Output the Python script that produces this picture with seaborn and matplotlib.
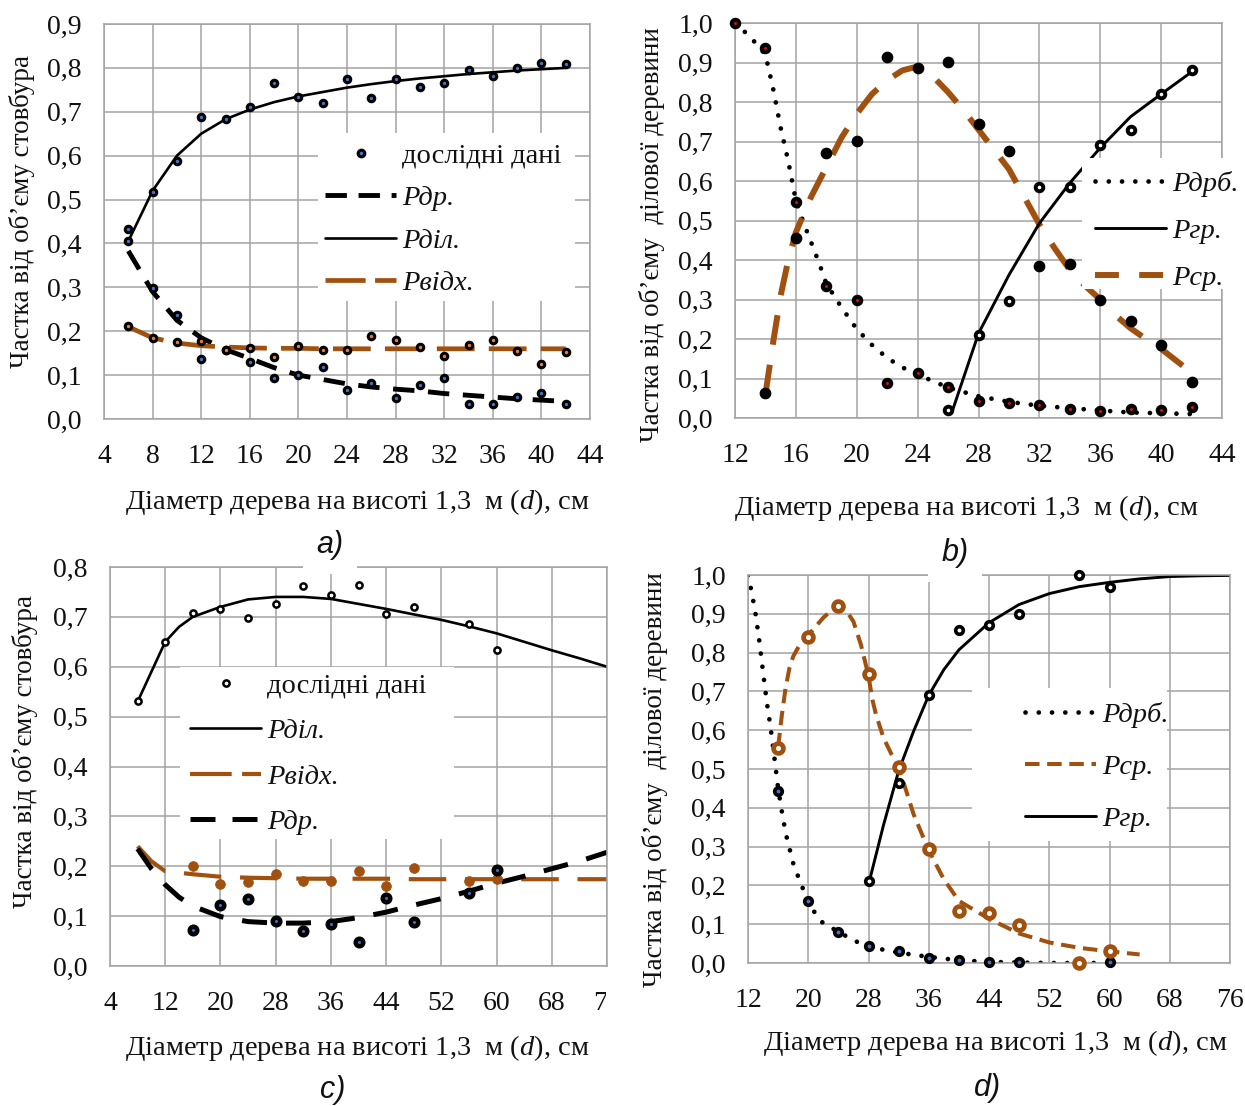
import matplotlib
matplotlib.use('Agg')
import seaborn as sns
from matplotlib import pyplot as plt
from matplotlib.lines import Line2D
from matplotlib.patches import Rectangle
from matplotlib.transforms import Bbox, TransformedBbox

# ---------------- data ----------------
# a) share of stem volume, small diameters
a_x = [6, 8, 10, 12, 14, 16, 18, 20, 22, 24, 26, 28, 30, 32, 34, 36, 38, 40, 42]
a_dil_pts = [0.434, 0.517, 0.588, 0.687, 0.684, 0.712, 0.765, 0.733, 0.721, 0.775,
             0.731, 0.775, 0.757, 0.765, 0.796, 0.782, 0.800, 0.812, 0.809]
a_dil_fit = [0.405, 0.52, 0.60, 0.65, 0.683, 0.705, 0.722, 0.735, 0.745, 0.755,
             0.763, 0.770, 0.776, 0.781, 0.786, 0.790, 0.794, 0.797, 0.800]
a_dr_pts = [0.406, 0.298, 0.238, 0.137, 0.158, 0.129, 0.094, 0.100, 0.118, 0.065,
            0.081, 0.047, 0.077, 0.093, 0.035, 0.035, 0.049, 0.059, 0.035]
a_dr_fit = [0.383, 0.29, 0.225, 0.185, 0.158, 0.138, 0.117, 0.100, 0.090, 0.080,
            0.073, 0.068, 0.064, 0.058, 0.054, 0.050, 0.046, 0.043, 0.040]
a_vidh_pts = [0.212, 0.184, 0.175, 0.177, 0.158, 0.161, 0.141, 0.167, 0.158, 0.158,
              0.190, 0.179, 0.165, 0.143, 0.169, 0.179, 0.155, 0.126, 0.153]
a_vidh_fit = [0.210, 0.185, 0.173, 0.167, 0.164, 0.162, 0.161, 0.161, 0.160, 0.160,
              0.160, 0.160, 0.160, 0.160, 0.160, 0.160, 0.160, 0.160, 0.160]

# b) share of commercial wood, small diameters
b_x = [12, 14, 16, 18, 20, 22, 24, 26, 28, 30, 32, 34, 36, 38, 40, 42]
b_drb_pts = [1.0, 0.937, 0.547, 0.333, 0.299, 0.089, 0.115, 0.078, 0.044, 0.037,
             0.033, 0.024, 0.017, 0.024, 0.020, 0.028]
b_drb_fit_x = [12, 13, 14, 14.5, 15, 15.5, 16, 16.5, 17, 17.5, 18, 19, 20, 21, 22, 23,
               24, 26, 28, 30, 32, 34, 36, 38, 40, 42]
b_drb_fit = [1.0, 0.965, 0.92, 0.835, 0.735, 0.65, 0.55, 0.495, 0.445, 0.395, 0.34,
             0.28, 0.225, 0.185, 0.152, 0.128, 0.11, 0.077, 0.055, 0.041, 0.031,
             0.025, 0.019, 0.014, 0.012, 0.010]
b_sr_x = [14, 16, 18, 20, 22, 24, 26, 28, 30, 32, 34, 36, 38, 40, 42]
b_sr_pts = [0.063, 0.456, 0.670, 0.702, 0.914, 0.885, 0.901, 0.745, 0.675, 0.386,
            0.390, 0.300, 0.245, 0.184, 0.092]
b_sr_fit_x = [14, 14.5, 15, 15.5, 16, 17, 18, 19, 20, 21, 22, 23, 24, 25, 26, 27, 28,
              29, 30, 31, 32, 33, 34, 35, 36, 37, 38, 39, 40, 41, 41.5]
b_sr_fit = [0.06, 0.19, 0.31, 0.40, 0.47, 0.56, 0.635, 0.71, 0.77, 0.82, 0.855, 0.88,
            0.89, 0.865, 0.825, 0.78, 0.73, 0.68, 0.63, 0.56, 0.49, 0.43, 0.375, 0.335,
            0.30, 0.26, 0.227, 0.20, 0.175, 0.145, 0.13]
b_gr_x = [26, 28, 30, 32, 34, 36, 38, 40, 42]
b_gr_pts = [0.020, 0.210, 0.296, 0.584, 0.584, 0.690, 0.730, 0.820, 0.880]
b_gr_fit_x = [26.3, 28, 30, 32, 34, 36, 38, 40, 42]
b_gr_fit = [0.020, 0.214, 0.362, 0.493, 0.595, 0.684, 0.763, 0.820, 0.876]

# c) share of stem volume, full diameter range
c_x = [8, 12, 16, 20, 24, 28, 32, 36, 40, 44, 48, 56, 60]
c_dil_pts = [0.531, 0.649, 0.708, 0.716, 0.697, 0.726, 0.762, 0.744, 0.764, 0.706,
             0.719, 0.685, 0.634]
c_x2 = [16, 20, 24, 28, 32, 36, 40, 44, 48, 56, 60]
c_vidh_pts = [0.200, 0.164, 0.169, 0.184, 0.171, 0.171, 0.190, 0.160, 0.197, 0.171, 0.175]
c_dr_pts = [0.073, 0.122, 0.134, 0.091, 0.071, 0.085, 0.048, 0.137, 0.089, 0.146, 0.192]
c_fit_x = [8, 10, 12, 14, 16, 20, 24, 28, 32, 36, 40, 44, 48, 52, 56, 60, 64, 68, 72, 76]
c_dil_fit = [0.53, 0.59, 0.65, 0.68, 0.70, 0.72, 0.735, 0.74, 0.74, 0.736, 0.726,
             0.716, 0.705, 0.694, 0.681, 0.667, 0.65, 0.633, 0.617, 0.60]
c_vidh_fit = [0.24, 0.21, 0.19, 0.187, 0.184, 0.179, 0.177, 0.176, 0.175, 0.175, 0.175,
              0.175, 0.174, 0.174, 0.174, 0.174, 0.174, 0.174, 0.174, 0.174]
c_dr_fit = [0.235, 0.195, 0.163, 0.138, 0.12, 0.099, 0.089, 0.086, 0.086, 0.089, 0.097,
            0.108, 0.122, 0.135, 0.15, 0.166, 0.18, 0.195, 0.21, 0.228]

# d) share of commercial wood, full diameter range
d_drb_x = [16, 20, 24, 28, 32, 36, 40, 44, 48, 60]
d_drb_pts = [0.444, 0.160, 0.081, 0.044, 0.030, 0.014, 0.008, 0.002, 0.002, 0.002]
d_drb_fit_x = [12, 12.5, 13, 13.5, 14, 14.5, 15, 15.5, 16, 16.5, 17, 18, 19, 20, 21, 22,
               24, 26, 28, 30, 32, 34, 36, 38, 40, 42, 44, 48, 52, 56, 60]
d_drb_fit = [1.0, 0.955, 0.90, 0.83, 0.75, 0.672, 0.607, 0.53, 0.45, 0.39, 0.335, 0.257,
             0.205, 0.16, 0.125, 0.102, 0.081, 0.058, 0.044, 0.034, 0.027, 0.021, 0.016,
             0.011, 0.008, 0.005, 0.003, 0.001, 0.0, 0.0, 0.0]
d_sr_x = [16, 20, 24, 28, 32, 36, 40, 44, 48, 56, 60]
d_sr_pts = [0.553, 0.840, 0.921, 0.745, 0.505, 0.295, 0.134, 0.129, 0.097, 0.0, 0.032]
d_sr_fit_x = [16, 16.5, 17, 17.5, 18, 19, 20, 22, 24, 25, 26, 27, 28, 28.5, 29, 30, 31,
              32, 34, 36, 38, 40, 44, 48, 52, 56, 60, 64]
d_sr_fit = [0.556, 0.64, 0.71, 0.76, 0.79, 0.825, 0.845, 0.89, 0.925, 0.91, 0.88, 0.82,
            0.74, 0.68, 0.64, 0.58, 0.54, 0.505, 0.383, 0.29, 0.216, 0.16, 0.114, 0.076,
            0.053, 0.039, 0.03, 0.022]
d_gr_x = [28, 32, 36, 40, 44, 48, 56, 60]
d_gr_pts = [0.211, 0.465, 0.690, 0.858, 0.871, 0.900, 1.0, 0.970]
d_gr_fit_x = [28, 30, 32, 34, 36, 38, 40, 44, 48, 52, 56, 60, 64, 68, 72, 76]
d_gr_fit = [0.202, 0.356, 0.495, 0.598, 0.69, 0.756, 0.807, 0.877, 0.924, 0.952, 0.97,
            0.981, 0.99, 0.996, 0.998, 0.999]

xlabel = 'Діаметр дерева на висоті 1,3  м ($\\mathit{d}$), см'
ylabel_stem = 'Частка від об’єму стовбура'
ylabel_wood = 'Частка від об’єму  ділової деревини'

# ---------------- style ----------------
W, H = 1245, 1106
BROWN = '#A0510F'
GRID = '#A3A3A3'
BLUE = '#4472C4'
ORANGE = '#ED7D31'
INK = '#111111'

sns.set_theme(style='white')
plt.rcParams['font.family'] = ['Liberation Serif', 'DejaVu Serif']
plt.rcParams['mathtext.fontset'] = 'custom'
plt.rcParams['mathtext.rm'] = 'Liberation Serif'
plt.rcParams['mathtext.it'] = 'Liberation Serif:italic'

fig = plt.figure(figsize=(W / 100, H / 100), dpi=100)


def add_axes(box):
    l, t, r, b = box
    return fig.add_axes([l / W, 1 - b / H, (r - l) / W, (b - t) / H])


def px_to_ax(box, x, y):
    l, t, r, b = box
    return (x - l) / (r - l), (b - y) / (b - t)


def style_axes(ax, box, xlim, xticks, ylim, yticks, ylab, xlab_pos, ylab_pos):
    ax.set_xlim(*xlim)
    ax.set_ylim(*ylim)
    ax.set_xticks(xticks)
    ax.set_xticklabels([str(v) for v in xticks])
    ax.set_yticks(yticks)
    ax.set_yticklabels([f'{v:.1f}'.replace('.', ',') for v in yticks])
    ax.grid(True, color=GRID, lw=1.1)
    ax.set_axisbelow(True)
    for s in ax.spines.values():
        s.set_color(GRID)
        s.set_linewidth(1.1)
    ax.tick_params(direction='out', length=6, width=1.1, color=GRID,
                   labelsize=20, pad=10, labelcolor=INK)
    ax.tick_params(axis='x', pad=12)
    ax.set_xlabel(xlabel, fontsize=20.5, color=INK)
    ax.xaxis.set_label_coords(*px_to_ax(box, *xlab_pos))
    ax.xaxis.label.set_va('center')
    ax.set_ylabel(ylab, fontsize=19.5, color=INK)
    ax.yaxis.set_label_coords(*px_to_ax(box, *ylab_pos))
    ax.yaxis.label.set_va('center')


def fit_line(ax, x, y, color, lw, ls, cap='butt'):
    sns.lineplot(x=x, y=y, ax=ax, color=color, lw=lw, linestyle=ls,
                 dash_capstyle=cap, sort=False, errorbar=None, zorder=2)


def points(ax, x, y, face, size, edge='black', ew=2.2):
    sns.scatterplot(x=x, y=y, ax=ax, color=face, edgecolor=edge, linewidth=ew,
                    s=size, zorder=3, clip_on=False, legend=False)


def white_box(ax, x0, y0, x1, y1):
    # white legend background (hides grid and lines underneath, as in the source)
    ax.add_patch(Rectangle((x0 / W, 1 - y1 / H), (x1 - x0) / W, (y1 - y0) / H,
                           transform=fig.transFigure, facecolor='white',
                           edgecolor='none', zorder=4, clip_on=False))


def legend(ax, handles, labels, x, y, spacing):
    leg = ax.legend(handles, labels, loc='upper left', bbox_to_anchor=(x / W, 1 - y / H),
                    bbox_transform=fig.transFigure, frameon=False, borderpad=0,
                    borderaxespad=0, handlelength=2.5, handletextpad=0.2,
                    labelspacing=spacing, fontsize=20.5)
    leg.set_zorder(6)
    for t in leg.get_texts():
        t.set_color(INK)
        if t.get_text().startswith('Р'):
            t.set_fontstyle('italic')
    return leg


def h_line(color, lw, ls, cap='butt'):
    return Line2D([], [], color=color, lw=lw, linestyle=ls, dash_capstyle=cap)


DOT = (0, (0.01, 2.8))

# ---------------- a) ----------------
box_a = (104, 24, 590, 419)
ax = add_axes(box_a)
fit_line(ax, a_x, a_dil_fit, 'black', 1.9, '-')
fit_line(ax, a_x, a_dr_fit, 'black', 3.5, (0, (4.4, 2.8)))
fit_line(ax, a_x, a_vidh_fit, BROWN, 3.4, (0, (8, 3)))
points(ax, a_x, a_dil_pts, BLUE, 22)
points(ax, a_x, a_dr_pts, BLUE, 22)
points(ax, a_x, a_vidh_pts, ORANGE, 22)
style_axes(ax, box_a, (4, 44), list(range(4, 45, 4)), (0, 0.9),
           [i / 10 for i in range(10)], ylabel_stem, (357, 502), (22, 212))
white_box(ax, 318, 133, 575, 301)
legend(ax, [Line2D([], [], ls='none', marker='o', mfc=BLUE, mec='black', mew=2.2, ms=4.8),
            h_line('black', 3.5, (0, (4.4, 2.4))), h_line('black', 1.9, '-'),
            h_line(BROWN, 3.4, (0, (8.5, 2)))],
       ['дослідні дані', 'Рдр.', 'Рділ.', 'Рвідх.'], 325, 143, 0.58)

# ---------------- b) ----------------
box_b = (735, 23, 1222, 418)
ax = add_axes(box_b)
fit_line(ax, b_drb_fit_x, b_drb_fit, 'black', 3.4, DOT, 'round')
fit_line(ax, b_sr_fit_x, b_sr_fit, BROWN, 4.3, (0, (5, 3.4)))
fit_line(ax, b_gr_fit_x, b_gr_fit, 'black', 2.1, '-')
points(ax, b_x, b_drb_pts, '#D01010', 28, ew=3.0)
points(ax, b_sr_x, b_sr_pts, 'black', 55, ew=1.0)
points(ax, b_gr_x, b_gr_pts, 'white', 30, ew=2.8)
style_axes(ax, box_b, (12, 44), list(range(12, 45, 4)), (0, 1.0),
           [i / 10 for i in range(11)], ylabel_wood, (966, 508), (652, 235))
white_box(ax, 1082, 158, 1224, 289)
legend(ax, [h_line('black', 3.4, DOT, 'round'), h_line('black', 2.1, '-'),
            h_line(BROWN, 4.3, (0, (4, 3.4)))],
       ['Рдрб.', 'Ргр.', 'Рср.'], 1095, 171, 0.74)

# ---------------- c) ----------------
box_c = (110, 567, 607, 966)
ax = add_axes(box_c)
fit_line(ax, c_fit_x, c_dil_fit, 'black', 1.9, '-')
fit_line(ax, c_fit_x, c_vidh_fit, BROWN, 3.0, (0, (9, 4.5)))
fit_line(ax, c_fit_x, c_dr_fit, 'black', 3.6, (0, (5, 3.8)))
points(ax, c_x, c_dil_pts, 'white', 20, ew=1.8)
points(ax, c_x2, c_vidh_pts, BROWN, 50, edge=BROWN, ew=0.5)
points(ax, c_x2, c_dr_pts, BLUE, 30, ew=3.2)
style_axes(ax, box_c, (4, 76), list(range(4, 77, 8)), (0, 0.8),
           [i / 10 for i in range(9)], ylabel_stem, (357, 1048), (25, 752))
clip = TransformedBbox(Bbox.from_extents(0, 0, 606 / W, 1), fig.transFigure)
for t in ax.get_xticklabels():
    t.set_clip_on(True)
    t.set_clip_box(clip)
white_box(ax, 180, 667, 454, 839)
legend(ax, [Line2D([], [], ls='none', marker='o', mfc='white', mec='black', mew=1.8, ms=4.5),
            h_line('black', 1.9, '-'), h_line(BROWN, 3.0, (0, (10, 2.5))),
            h_line('black', 3.6, (0, (5, 3.4)))],
       ['дослідні дані', 'Рділ.', 'Рвідх.', 'Рдр.'], 190, 673, 0.68)

# ---------------- d) ----------------
box_d = (748, 575, 1230, 963)
ax = add_axes(box_d)
fit_line(ax, d_drb_fit_x, d_drb_fit, 'black', 3.4, DOT, 'round')
fit_line(ax, d_sr_fit_x, d_sr_fit, BROWN, 2.9, (0, (3.6, 1.9)))
fit_line(ax, d_gr_fit_x, d_gr_fit, 'black', 2.1, '-')
points(ax, d_drb_x, d_drb_pts, BLUE, 30, ew=2.6)
points(ax, d_sr_x, d_sr_pts, 'white', 50, edge=BROWN, ew=3.4)
points(ax, d_gr_x, d_gr_pts, 'white', 30, ew=2.6)
style_axes(ax, box_d, (12, 76), list(range(12, 77, 8)), (0, 1.0),
           [i / 10 for i in range(11)], ylabel_wood, (995, 1043), (655, 780))
white_box(ax, 972, 688, 1167, 841)
legend(ax, [h_line('black', 3.4, DOT, 'round'), h_line(BROWN, 2.9, (0, (3.6, 1.9))),
            h_line('black', 2.1, '-')],
       ['Рдрб.', 'Рср.', 'Ргр.'], 1025, 702, 0.91)

# ---------------- panel tags ----------------
for tag, x, y in [('a)', 330, 545), ('b)', 955, 553), ('c)', 333, 1090), ('d)', 988, 1088)]:
    fig.text(x / W, 1 - y / H, tag, family=['Liberation Sans', 'DejaVu Sans'],
             style='italic', fontsize=22, ha='center', va='center', color=INK,
             zorder=10, bbox=dict(boxstyle='square,pad=0.45', fc='white', ec='none'))

fig.savefig('out.png', dpi=100)
